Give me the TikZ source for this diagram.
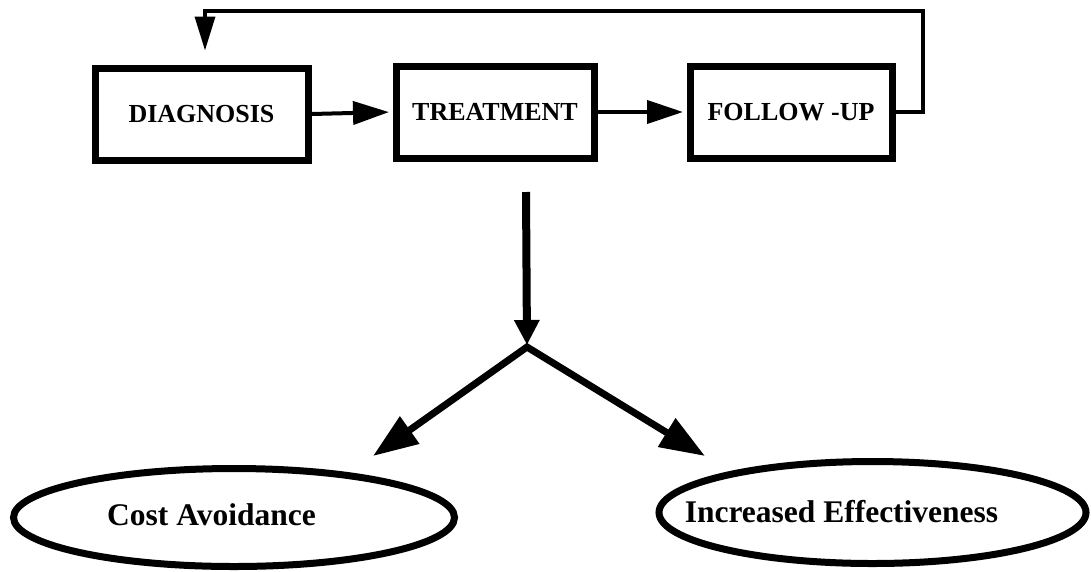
\documentclass[tikz,border=0pt]{standalone}
\usepackage{fontspec}
\setmainfont{Liberation Serif}
\usetikzlibrary{arrows.meta,shapes.geometric}
\begin{document}
\begin{tikzpicture}[x=1pt,y=-1pt,
  box/.style={draw,line width=7pt,rectangle,inner sep=0pt,minimum height=92pt,
    font=\fontsize{26}{30}\selectfont\bfseries},
  oval/.style={draw,line width=7pt,ellipse,inner sep=0pt},
  lbl/.style={inner sep=0pt,anchor=base,font=\fontsize{31.5}{36}\selectfont\bfseries},
  flowarrow/.style={line width=4pt,-{Triangle[length=36pt,width=23pt]}},
  backarrow/.style={line width=3.5pt,-{Triangle[length=34pt,width=20pt]}},
  downarrow/.style={line width=8pt,-{Triangle[length=25pt,width=24pt]}},
  splitarrow/.style={line width=7pt,miter limit=10,
    {Triangle[length=45pt,width=32pt]}-{Triangle[length=45pt,width=32pt]}}]
\useasboundingbox (0,0) rectangle (1091,571);

\node[box,minimum width=213pt] (dg) at (201.5,114) {DIAGNOSIS};
\node[box,minimum width=198pt] (tr) at (495,112) {TREATMENT};
\node[box,minimum width=202pt] (fu) at (791,112) {FOLLOW -UP};

\draw[flowarrow,shorten >=3.5pt] (dg.east) -- (tr.west);
\draw[flowarrow,shorten >=3.5pt] (tr.east) -- (fu.west);

\coordinate (fc1) at (923,11);
\coordinate (fc2) at (205,11);
\draw[backarrow,shorten >=14pt] (fu.east) -| (fc1) -- (fc2) -- (fc2 |- dg.north);

\coordinate (v0) at (526,192);
\coordinate (jn) at (527,347);
\draw[downarrow,shorten >=2pt] (v0) -- (jn);

\node[oval,minimum width=441pt,minimum height=98pt] (ca) at (234,517.5) {};
\node[oval,minimum width=427pt,minimum height=102pt] (ie) at (872.5,512.5) {};
\node[lbl] (cat) at (211.5,525) {Cost Avoidance};
\node[lbl] (iet) at (841.5,522) {Increased Effectiveness};

\coordinate (lt) at (373,456);
\coordinate (rt) at (705,456);
\draw[splitarrow] (lt) -- (jn) -- (rt);
\end{tikzpicture}
\end{document}
